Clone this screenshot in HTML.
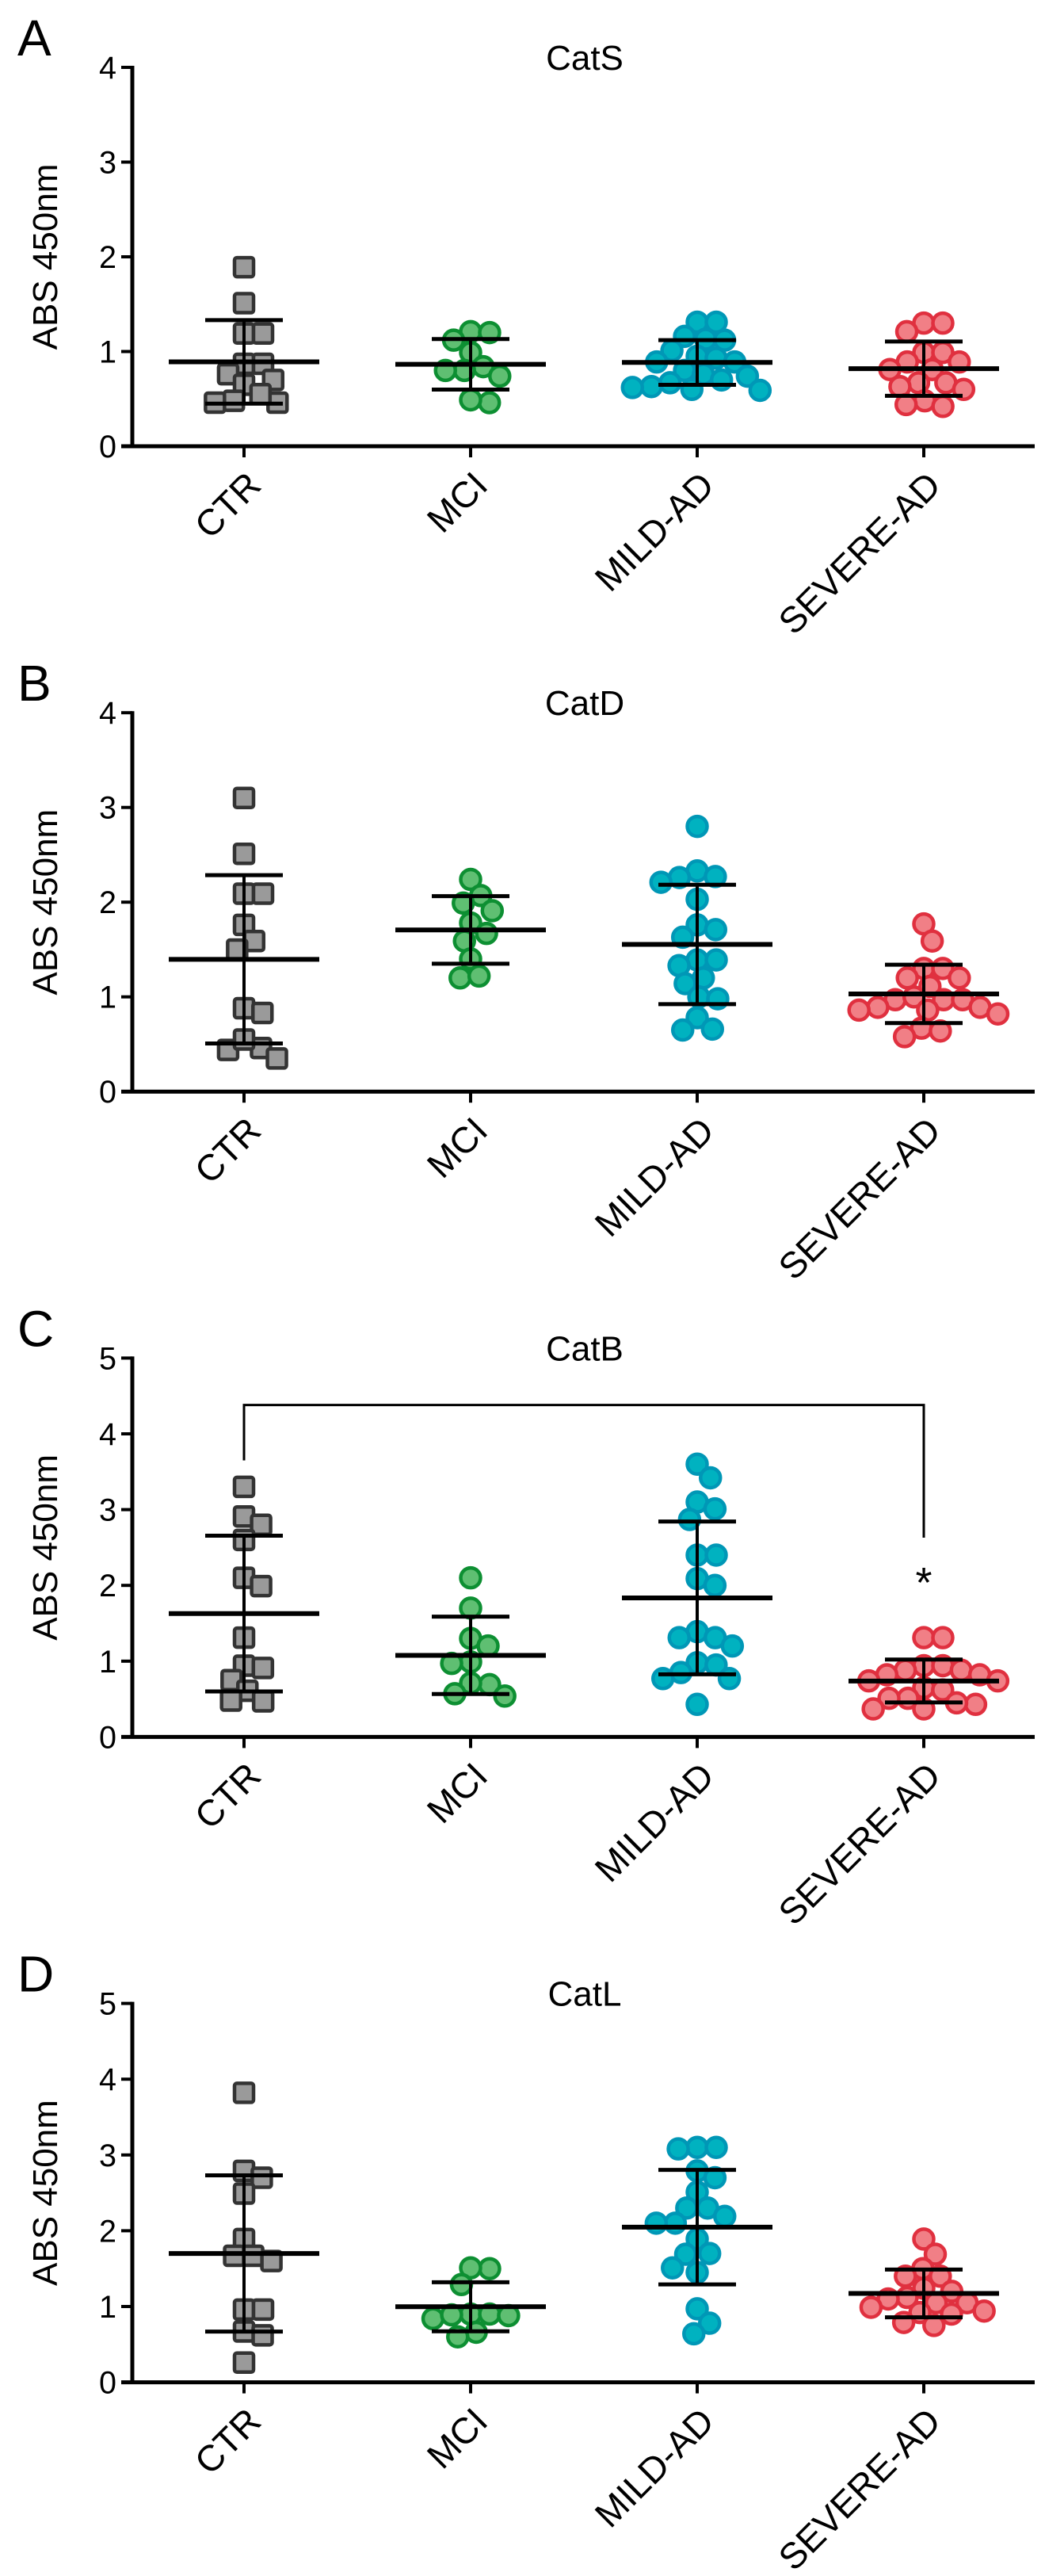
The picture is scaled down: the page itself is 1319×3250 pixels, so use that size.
<!DOCTYPE html>
<html><head><meta charset="utf-8"><style>
html,body{margin:0;padding:0;background:#fff;}
svg{display:block;font-family:"Liberation Sans",sans-serif;}
</style></head><body>
<svg id="fig" width="1319" height="3250" viewBox="0 0 1319 3250" xmlns="http://www.w3.org/2000/svg"></svg>
<script>
const categories = ["CTR","MCI","MILD-AD","SEVERE-AD"];
const panelLetters = ["A","B","C","D"];
const panelTitles = ["CatS","CatD","CatB","CatL"];
const yMaxes = [4,4,5,5];
const catS_CTR = [1.89,1.51,1.19,1.19,0.87,0.87,0.76,0.65,0.70,0.48,0.46,0.46,0.55];
const catS_MCI = [1.21,1.20,1.12,0.99,0.84,0.80,0.80,0.74,0.46,0.49];
const catS_MILD = [1.31,1.31,1.16,1.13,1.12,1.01,0.95,0.93,0.89,0.89,0.80,0.76,0.74,0.70,0.67,0.63,0.59,0.60,0.62];
const catS_SEV = [1.30,1.30,1.21,0.99,0.99,0.89,0.89,0.81,0.81,0.67,0.67,0.63,0.60,0.48,0.44,0.42];
const catD_CTR = [3.10,2.51,2.09,2.09,1.76,1.59,1.50,0.88,0.83,0.46,0.44,0.55,0.35];
const catD_MCI = [2.24,2.07,1.99,1.91,1.78,1.67,1.59,1.40,1.20,1.22];
const catD_MILD = [2.80,2.33,2.26,2.27,2.21,2.03,1.76,1.71,1.63,1.39,1.33,1.39,1.20,1.14,1.00,0.98,0.78,0.65,0.66];
const catD_SEV = [1.77,1.59,1.30,1.30,1.20,1.20,1.11,0.97,0.97,0.97,1.00,0.89,0.86,0.89,0.86,0.82,0.67,0.64,0.58];
const catB_CTR = [3.30,2.91,2.80,2.60,2.10,1.99,1.31,0.94,0.91,0.75,0.61,0.47,0.48];
const catB_MCI = [2.10,1.70,1.30,1.20,0.99,0.97,0.69,0.71,0.54,0.57];
const catB_MILD = [3.60,3.42,3.10,3.01,2.87,2.40,2.40,2.09,2.00,1.39,1.31,1.31,1.20,0.98,0.95,0.85,0.77,0.77,0.43];
const catB_SEV = [1.31,1.31,0.94,0.94,0.88,0.88,0.82,0.82,0.74,0.74,0.65,0.62,0.51,0.51,0.43,0.37,0.37,0.45];
const catL_CTR = [3.82,2.79,2.70,2.49,1.89,1.67,1.67,1.60,0.96,0.96,0.67,0.62,0.26];
const catL_MCI = [1.50,1.51,1.29,0.90,0.90,0.84,0.88,0.89,0.66,0.60];
const catL_MILD = [3.10,3.08,3.10,2.79,2.70,2.51,2.30,2.30,2.19,2.10,2.10,1.89,1.70,1.69,1.51,1.45,0.97,0.78,0.64];
const catL_SEV = [1.89,1.69,1.50,1.40,1.40,1.24,1.20,1.12,1.10,1.05,1.05,0.99,0.94,0.90,0.92,0.79,0.75];
const sigBracket = [3.65,4.38,2.63];
const sigLabel = "*";

const panelsData = [
  [catS_CTR,catS_MCI,catS_MILD,catS_SEV],
  [catD_CTR,catD_MCI,catD_MILD,catD_SEV],
  [catB_CTR,catB_MCI,catB_MILD,catB_SEV],
  [catL_CTR,catL_MCI,catL_MILD,catL_SEV]
];
const NS="http://www.w3.org/2000/svg";
const svg=document.getElementById('fig');
const fills=["#9a9a9a","#5fbf72","#00b2c0","#f17f86"];
const strokes=["#333333","#0d8f32","#0097b6","#e0303f"];
const AX=167, AXEND=1306, H=478, CX0=308, CSTEP=286;
function mk(tag,attrs,parent){const e=document.createElementNS(NS,tag);for(const k in attrs)e.setAttribute(k,attrs[k]);(parent||svg).appendChild(e);return e;}
function xPos(i){return CX0+i*CSTEP;}
function beeswarm(ys,D){
  const idx=ys.map((y,i)=>i).sort((a,b)=>ys[a]-ys[b]);
  const placed=[];const xs=new Array(ys.length).fill(0);
  for(const i of idx){
    const y=ys[i];const cands=[0];
    for(const p of placed){const dy=Math.abs(p.y-y);if(dy<D){const w=Math.sqrt(D*D-dy*dy);cands.push(p.x+w,p.x-w);}}
    cands.sort((a,b)=>Math.abs(a)-Math.abs(b));
    for(const c of cands){let ok=true;for(const p of placed){const dx=p.x-c,dy=p.y-y;if(dx*dx+dy*dy<D*D-0.5){ok=false;break;}}if(ok){xs[i]=c;break;}}
    placed.push({x:xs[i],y:y});
  }
  return xs;
}
panelsData.forEach((groups,p)=>{
  const zero=563+p*814.2, top=zero-H, ymax=yMaxes[p];
  const yS=v=>zero-v/ymax*H;
  const g=mk('g',{});
  
  
  const L=mk('text',{x:22,y:top-15,'font-size':64},g);L.textContent=panelLetters[p];
  
  const T=mk('text',{x:738,y:top+3,'font-size':44,'text-anchor':'middle'},g);T.textContent=panelTitles[p];
  
  const YT=mk('text',{x:0,y:0,'font-size':44,'text-anchor':'middle',transform:`translate(72,${(top+zero)/2}) rotate(-90)`},g);YT.textContent="ABS 450nm";
  
  const ya=mk('line',{x1:AX,y1:top-2,x2:AX,y2:zero,stroke:'#000','stroke-width':5},g);
  
  const xa=mk('line',{x1:153,y1:zero,x2:AXEND,y2:zero,stroke:'#000','stroke-width':5},g);
  
  for(let t=0;t<=ymax;t++){
    const y=yS(t);
    mk('line',{x1:153,y1:y,x2:AX,y2:y,stroke:'#000','stroke-width':4},g);
    const tl=mk('text',{x:147,y:y+14,'font-size':40,'text-anchor':'end',textLength:22,lengthAdjust:'spacingAndGlyphs'},g);tl.textContent=t;
    
  }
  groups.forEach((vals,c)=>{
    const cx=xPos(c);
    mk('line',{x1:cx,y1:zero,x2:cx,y2:zero+14,stroke:'#000','stroke-width':4},g);
    const xl=mk('text',{x:0,y:0,'font-size':46,'text-anchor':'end',transform:`translate(${cx+24},${zero+52}) rotate(-45)`},g);xl.textContent=categories[c];
    
    const ys=vals.map(yS);
    const xs=beeswarm(ys,24);
    vals.forEach((v,i)=>{
      let m;
      if(c===0){m=mk('rect',{x:cx+xs[i]-12,y:ys[i]-12,width:24,height:24,rx:3,fill:fills[c],stroke:strokes[c],'stroke-width':4.5},g);}
      else{m=mk('circle',{cx:cx+xs[i],cy:ys[i],r:12.5,fill:fills[c],stroke:strokes[c],'stroke-width':4.5},g);}
      
    });
    const n=vals.length, mean=vals.reduce((a,b)=>a+b,0)/n;
    const sd=Math.sqrt(vals.reduce((a,b)=>a+(b-mean)*(b-mean),0)/(n-1));
    const ym=yS(mean), yt=yS(mean+sd), yb=yS(Math.max(0,mean-sd));
    const e1=mk('line',{x1:cx,y1:yt,x2:cx,y2:yb,stroke:'#000','stroke-width':4},g);
    
    mk('line',{x1:cx-49,y1:yt,x2:cx+49,y2:yt,stroke:'#000','stroke-width':5},g);
    mk('line',{x1:cx-49,y1:yb,x2:cx+49,y2:yb,stroke:'#000','stroke-width':5},g);
    const ml=mk('line',{x1:cx-95,y1:ym,x2:cx+95,y2:ym,stroke:'#000','stroke-width':6},g);
    
  });
  if(p===2){
    const x1=xPos(0),x2=xPos(3);
    const br=mk('polyline',{points:`${x1},${yS(sigBracket[0])} ${x1},${yS(sigBracket[1])} ${x2},${yS(sigBracket[1])} ${x2},${yS(sigBracket[2])}`,fill:'none',stroke:'#000','stroke-width':3},g);
    
    const st=mk('text',{x:x2,y:yS(sigBracket[2])+75,'font-size':54,'text-anchor':'middle'},g);st.textContent=sigLabel;
    
  }
});
</script>
</body></html>
